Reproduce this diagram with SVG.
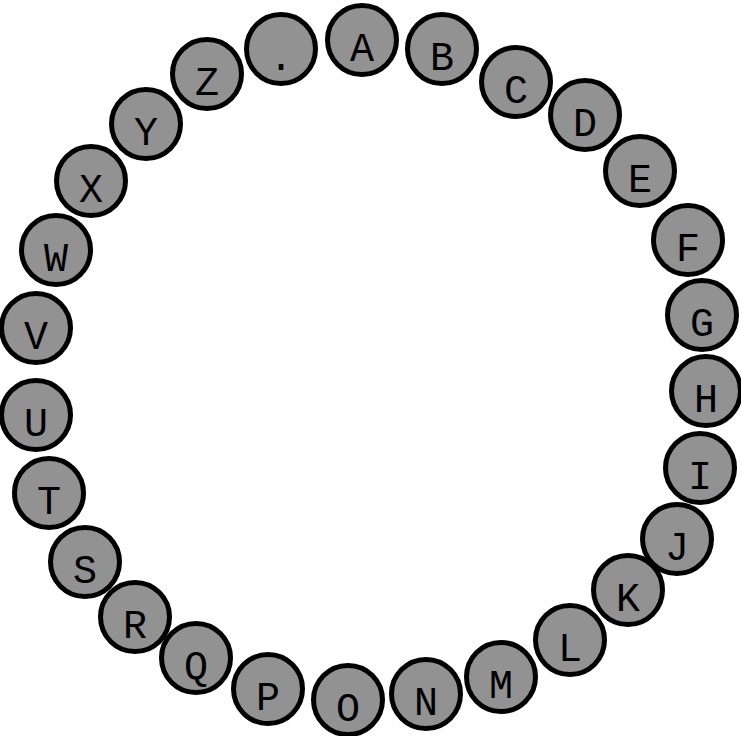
<svg xmlns="http://www.w3.org/2000/svg" width="741" height="736" viewBox="0 0 741 736">
<style>
.n circle{fill:#929292;stroke:#000;stroke-width:5}
.n text{font-family:"Liberation Mono","Courier New",monospace;font-size:40px;fill:#000;text-anchor:middle}
</style>
<rect width="741" height="736" fill="#fff"/>
<g id="connectors"/>
<g id="nodes">
<g id="node-A" class="n"><circle cx="362" cy="40" r="34.5"/><text x="362" y="61">A</text></g>
<g id="node-dot" class="n"><circle cx="281" cy="49" r="34.5"/><text x="281" y="70">.</text></g>
<g id="node-B" class="n"><circle cx="442" cy="49" r="34.5"/><text x="442" y="70">B</text></g>
<g id="node-C" class="n"><circle cx="516" cy="82" r="34.5"/><text x="516" y="103">C</text></g>
<g id="node-D" class="n"><circle cx="585" cy="115" r="34.5"/><text x="585" y="136">D</text></g>
<g id="node-E" class="n"><circle cx="640" cy="171" r="34.5"/><text x="640" y="192">E</text></g>
<g id="node-F" class="n"><circle cx="688" cy="240" r="34.5"/><text x="688" y="261">F</text></g>
<g id="node-G" class="n"><circle cx="702" cy="315" r="34.5"/><text x="702" y="336">G</text></g>
<g id="node-H" class="n"><circle cx="706" cy="391" r="34.5"/><text x="706" y="412">H</text></g>
<g id="node-I" class="n"><circle cx="700" cy="468" r="34.5"/><text x="700" y="489">I</text></g>
<g id="node-J" class="n"><circle cx="677" cy="539" r="34.5"/><text x="677" y="560">J</text></g>
<g id="node-K" class="n"><circle cx="628" cy="590" r="34.5"/><text x="628" y="611">K</text></g>
<g id="node-L" class="n"><circle cx="570" cy="640" r="34.5"/><text x="570" y="661">L</text></g>
<g id="node-M" class="n"><circle cx="501" cy="677" r="34.5"/><text x="501" y="698">M</text></g>
<g id="node-N" class="n"><circle cx="426" cy="694" r="34.5"/><text x="426" y="715">N</text></g>
<g id="node-O" class="n"><circle cx="348" cy="700" r="34.5"/><text x="348" y="721">O</text></g>
<g id="node-P" class="n"><circle cx="268" cy="689" r="34.5"/><text x="268" y="710">P</text></g>
<g id="node-Q" class="n"><circle cx="196" cy="658" r="34.5"/><text x="196" y="679">Q</text></g>
<g id="node-R" class="n"><circle cx="135" cy="617" r="34.5"/><text x="135" y="638">R</text></g>
<g id="node-S" class="n"><circle cx="85" cy="562" r="34.5"/><text x="85" y="583">S</text></g>
<g id="node-T" class="n"><circle cx="49" cy="493" r="34.5"/><text x="49" y="514">T</text></g>
<g id="node-U" class="n"><circle cx="36" cy="415" r="34.5"/><text x="36" y="436">U</text></g>
<g id="node-V" class="n"><circle cx="36" cy="328" r="34.5"/><text x="36" y="349">V</text></g>
<g id="node-W" class="n"><circle cx="56" cy="250" r="34.5"/><text x="56" y="271">W</text></g>
<g id="node-X" class="n"><circle cx="91" cy="181" r="34.5"/><text x="91" y="202">X</text></g>
<g id="node-Y" class="n"><circle cx="146" cy="124" r="34.5"/><text x="146" y="145">Y</text></g>
<g id="node-Z" class="n"><circle cx="207" cy="74" r="34.5"/><text x="207" y="95">Z</text></g>
</g>
</svg>
